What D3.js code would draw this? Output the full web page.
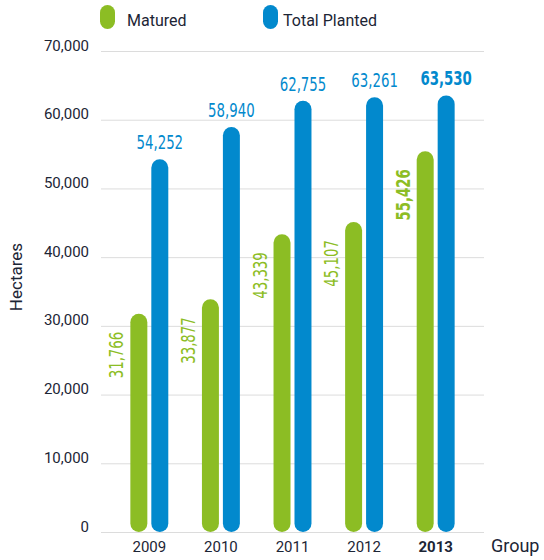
<!DOCTYPE html>
<html>
<head>
<meta charset="utf-8">
<script src="https://cdn.jsdelivr.net/npm/d3@7"></script>
<style>
  html, body { margin: 0; padding: 0; background: #fff; }
  svg { display: block; }
</style>
</head>
<body>
<svg id="chart" width="544" height="560"></svg>
<script>
// Planted area by year, in hectares
const years = ["2009", "2010", "2011", "2012", "2013"];
const matured = [31766, 33877, 43339, 45107, 55426];
const totalPlanted = [54252, 58940, 62755, 63261, 63530];
const seriesNames = ["Matured", "Total Planted"];
const yTicks = [0, 10000, 20000, 30000, 40000, 50000, 60000, 70000];
const highlightYear = "2013";

const GREEN = "#8cbd24";
const BLUE = "#0289cd";
const TEXT = "#1c2535";
const GRID = "#dcdcdc";
const LABEL_FONT = "'DejaVu Sans Condensed', 'Liberation Sans Narrow', sans-serif";
const LABEL_SQUEEZE = 0.78;   // narrow the value labels horizontally
const UI_FONT = "Roboto, 'Noto Sans', sans-serif";

const svg = d3.select("#chart");

const plot = { left: 101, right: 484, top: 51, bottom: 532 };

const y = d3.scaleLinear()
  .domain([0, 70000])
  .range([plot.bottom, plot.top]);

const x0 = d3.scaleBand()
  .domain(years)
  .range([plot.left, plot.right])
  .paddingInner(0.47)
  .paddingOuter(0.41);

const x1 = d3.scaleBand()
  .domain(seriesNames)
  .range([0, x0.bandwidth()])
  .paddingInner(0.19);

const colour = d3.scaleOrdinal().domain(seriesNames).range([GREEN, BLUE]);

const rows = years.map((yr, i) => ({
  year: yr,
  values: [
    { key: seriesNames[0], value: matured[i] },
    { key: seriesNames[1], value: totalPlanted[i] }
  ]
}));

// Horizontal gridlines with tick labels sitting on them
const yAxis = svg.append("g")
  .attr("transform", `translate(${plot.left},0)`)
  .call(d3.axisLeft(y)
    .tickValues(yTicks)
    .tickSize(-(plot.right - plot.left))
    .tickPadding(12)
    .tickFormat(d3.format(",")));
yAxis.select(".domain").remove();
yAxis.selectAll(".tick line").attr("stroke", GRID).attr("stroke-width", 1);
yAxis.selectAll(".tick text")
  .attr("fill", TEXT)
  .attr("font-family", UI_FONT)
  .attr("font-size", 15)
  .attr("dy", "-1");

// Y-axis title
svg.append("text")
  .attr("transform", "translate(22,277) rotate(-90)")
  .attr("text-anchor", "middle")
  .attr("fill", TEXT)
  .attr("font-family", UI_FONT)
  .attr("font-size", 17)
  .text("Hectares");

// Bars: pill shapes rounded at both ends
const groups = svg.append("g")
  .selectAll("g")
  .data(rows)
  .join("g")
  .attr("transform", d => `translate(${x0(d.year)},0)`);

const bw = x1.bandwidth();

groups.selectAll("rect")
  .data(d => d.values)
  .join("rect")
  .attr("x", d => x1(d.key))
  .attr("y", d => y(d.value))
  .attr("width", bw)
  .attr("height", d => y(0) - y(d.value))
  .attr("rx", bw / 2)
  .attr("ry", bw / 2)
  .attr("fill", d => colour(d.key));

// Total planted value labels above the blue bars
groups.append("text")
  .attr("transform", d => `translate(${x1(seriesNames[1]) + bw / 2},${y(d.values[1].value) - 10}) scale(${LABEL_SQUEEZE},1)`)
  .attr("text-anchor", "middle")
  .attr("fill", BLUE)
  .attr("font-family", LABEL_FONT)
  .attr("font-size", 19)
  .attr("font-weight", d => d.year === highlightYear ? "bold" : "normal")
  .text(d => d3.format(",")(d.values[1].value));

// Matured value labels, rotated beside the green bars
groups.append("text")
  .attr("transform", d => `translate(${x1(seriesNames[0]) - 7},${y(d.values[0].value) + 18}) rotate(-90) scale(${LABEL_SQUEEZE},1)`)
  .attr("text-anchor", "end")
  .attr("fill", GREEN)
  .attr("font-family", LABEL_FONT)
  .attr("font-size", 19)
  .attr("font-weight", d => d.year === highlightYear ? "bold" : "normal")
  .text(d => d3.format(",")(d.values[0].value));

// Category axis
const xAxis = svg.append("g")
  .attr("transform", `translate(0,${plot.bottom})`)
  .call(d3.axisBottom(x0).tickSize(0).tickPadding(9));
xAxis.select(".domain").remove();
xAxis.selectAll(".tick text")
  .attr("fill", TEXT)
  .attr("font-family", UI_FONT)
  .attr("font-size", 15)
  .attr("font-weight", d => d === highlightYear ? "bold" : "normal");

svg.append("text")
  .attr("x", 491)
  .attr("y", 552)
  .attr("fill", TEXT)
  .attr("font-family", UI_FONT)
  .attr("font-size", 18)
  .text("Group");

// Legend
const legendX = [100, 263];
const legend = svg.append("g")
  .selectAll("g")
  .data(seriesNames)
  .join("g")
  .attr("transform", (d, i) => `translate(${legendX[i]},5)`);
legend.append("rect")
  .attr("width", 15)
  .attr("height", 24)
  .attr("rx", 7.5)
  .attr("ry", 7.5)
  .attr("fill", d => colour(d));
legend.append("text")
  .attr("x", (d, i) => i === 0 ? 27 : 20)
  .attr("y", 21)
  .attr("fill", TEXT)
  .attr("font-family", UI_FONT)
  .attr("font-size", 16)
  .text(d => d);
</script>
</body>
</html>
